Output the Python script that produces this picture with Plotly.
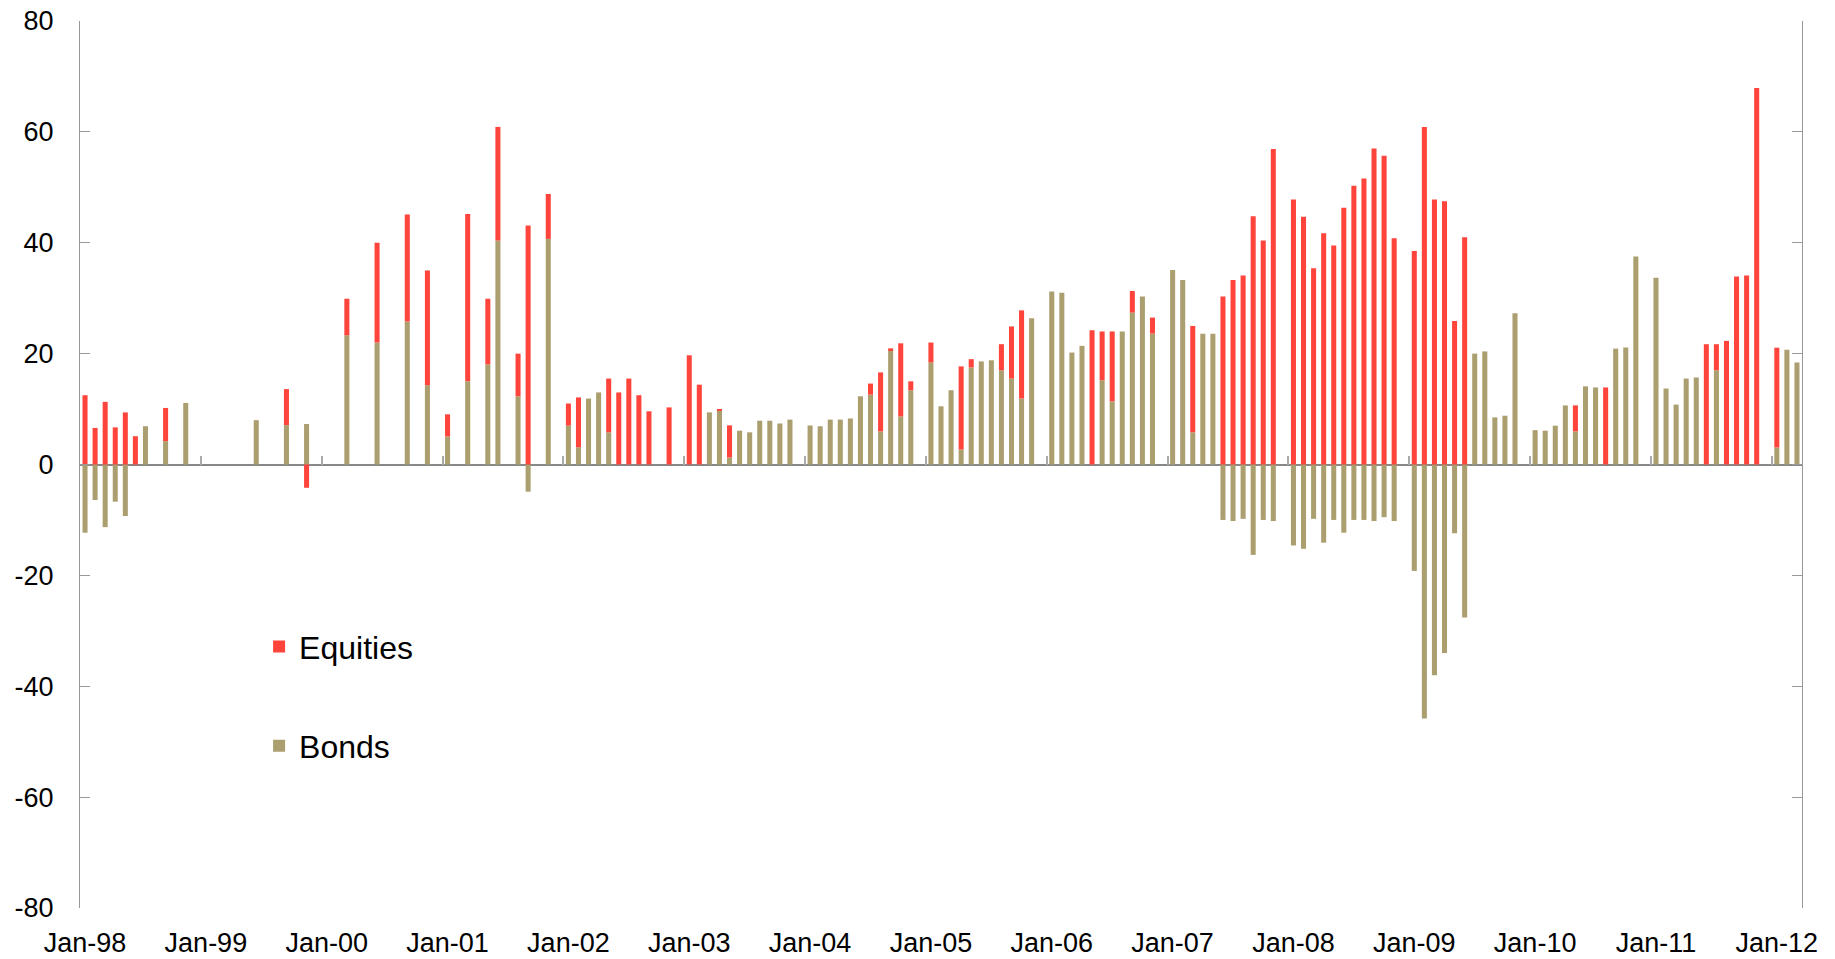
import plotly.graph_objects as go

# ---------------- data (monthly, Jan-98 .. Mar-12) ----------------
month_names = ["Jan", "Feb", "Mar", "Apr", "May", "Jun",
               "Jul", "Aug", "Sep", "Oct", "Nov", "Dec"]
years = ["98", "99", "00", "01", "02", "03", "04",
         "05", "06", "07", "08", "09", "10", "11", "12"]
last_year_months = 3  # data for 2012 runs to March

categories = []
for yy in years:
    n = last_year_months if yy == "12" else 12
    for m in month_names[:n]:
        categories.append(f"{m}-{yy}")

year_tick_labels = ["Jan-98", "Jan-99", "Jan-00", "Jan-01", "Jan-02", "Jan-03",
                    "Jan-04", "Jan-05", "Jan-06", "Jan-07", "Jan-08", "Jan-09",
                    "Jan-10", "Jan-11", "Jan-12"]

N = None
equities = [
    # 1998
    12.5, 6.6, 11.3, 6.7, 9.4, 5.1, N, N, 6.0, N, N, N,
    # 1999
    N, N, N, N, N, N, N, N, 6.5, N, -4.2, N,
    # 2000
    N, N, 6.6, N, N, 18.0, N, N, 19.3, N, 20.7, N,
    # 2001
    4.0, N, 30.2, N, 11.85, 20.5, N, 7.7, 43.1, N, 8.1, N,
    # 2002
    4.0, 9.0, N, N, 9.7, 13.0, 15.5, 12.5, 9.6, N, 10.3, N,
    # 2003
    19.7, 14.4, N, 0.2, 5.8, N, N, N, N, N, N, N,
    # 2004
    N, N, N, N, N, N, 2.0, 10.65, 0.35, 13.2, 1.6, N,
    # 2005
    3.6, N, N, 15.0, 1.5, N, N, 4.7, 9.4, 15.9, N, N,
    # 2006
    N, N, N, N, 24.2, 8.8, 12.6, N, 3.9, N, 2.9, N,
    # 2007
    N, N, 19.2, N, N, 30.3, 33.3, 34.1, 44.8, 40.4, 56.9, N,
    # 2008
    47.8, 44.7, 35.4, 41.7, 39.5, 46.3, 50.3, 51.6, 57.0, 55.7, 40.8, N,
    # 2009
    38.5, 60.9, 47.8, 47.5, 25.9, 41.0, N, N, N, N, N, N,
    # 2010
    N, N, N, N, 4.7, N, N, 13.9, N, N, N, N,
    # 2011
    N, N, N, N, N, 21.7, 4.7, 22.3, 33.9, 34.1, 67.9, N,
    # 2012
    18.0, N, N,
]

bonds = [
    # 1998
    -12.3, -6.4, -11.3, -6.7, -9.3, N, 6.9, N, 4.2, N, 11.1, N,
    # 1999
    N, N, N, N, N, 8.0, N, N, 7.1, N, 7.3, N,
    # 2000
    N, N, 23.3, N, N, 22.0, N, N, 25.8, N, 14.3, N,
    # 2001
    5.05, N, 15.0, N, 18.05, 40.4, N, 12.3, -4.9, N, 40.7, N,
    # 2002
    7.0, 3.1, 11.9, 13.0, 5.8, N, N, N, N, N, N, N,
    # 2003
    N, N, 9.4, 9.75, 1.26, 6.1, 5.8, 7.9, 7.9, 7.4, 8.1, N,
    # 2004
    7.04, 6.9, 8.1, 8.1, 8.3, 12.3, 12.6, 5.96, 20.6, 8.66, 13.4, N,
    # 2005
    18.4, 10.5, 13.4, 2.7, 17.5, 18.6, 18.8, 17.0, 15.5, 11.9, 26.4, N,
    # 2006
    31.2, 31.0, 20.2, 21.4, N, 15.2, 11.4, 24.0, 27.4, 30.3, 23.6, N,
    # 2007
    35.1, 33.3, 5.8, 23.6, 23.6, -10.0, -10.2, -9.8, -16.3, -10.0, -10.2, N,
    # 2008
    -14.6, -15.2, -9.8, -14.1, -10.0, -12.3, -10.0, -10.0, -10.2, -9.5, -10.2, N,
    # 2009
    -19.2, -45.8, -38.0, -34.0, -12.4, -27.6, 20.0, 20.4, 8.5, 8.8, 27.3, N,
    # 2010
    6.2, 6.1, 7.0, 10.65, 5.96, 14.1, 13.9, N, 20.9, 21.1, 37.5, N,
    # 2011
    33.7, 13.7, 10.8, 15.5, 15.7, N, 17.0, N, N, N, N, N,
    # 2012
    3.07, 20.7, 18.4,
]

y_ticks = [-80, -60, -40, -20, 0, 20, 40, 60, 80]
y_tick_labels = ["-80", "-60", "-40", "-20", "0", "20", "40", "60", "80"]
# year boundaries (between Dec and Jan) for the small ticks on the zero line
year_boundaries = [12 * k - 0.5 for k in range(1, 15)]

RED = "#FF443B"
KHAKI = "#AB9E6F"
FONT = "Liberation Sans, Arial, sans-serif"

fig = go.Figure()
fig.add_trace(go.Bar(x=categories, y=bonds, name="Bonds",
                     marker=dict(color=KHAKI, line=dict(width=0)),
                     legend="legend2"))
fig.add_trace(go.Bar(x=categories, y=equities, name="Equities",
                     marker=dict(color=RED, line=dict(width=0)),
                     legend="legend"))
# helper trace so the overlaid zero-line tick axis is drawn
fig.add_trace(go.Scatter(x=[None], y=[None], xaxis="x2", showlegend=False,
                         hoverinfo="skip", mode="markers"))

n_cat = len(categories)
fig.update_layout(
    width=1835, height=959,
    margin=dict(l=80, r=33, t=21, b=51, autoexpand=False),
    paper_bgcolor="white", plot_bgcolor="white",
    barmode="relative", bargap=0.5,
    font=dict(family=FONT, color="black", size=27),
    xaxis=dict(type="category", categoryorder="array", categoryarray=categories,
               range=[-0.5, n_cat - 0.5],
               tickmode="array", tickvals=year_tick_labels, ticktext=year_tick_labels,
               ticks="", showline=False, showgrid=False, zeroline=False,
               tickfont=dict(size=27, family=FONT), ticklabelstandoff=16),
    xaxis2=dict(type="linear", overlaying="x", anchor="free", position=0.5,
                side="bottom", range=[-0.5, n_cat - 0.5],
                showline=False, showgrid=False, zeroline=False,
                tickmode="array", tickvals=year_boundaries, showticklabels=False,
                ticks="inside", ticklen=9, tickwidth=1.5, tickcolor="#AAAAAA"),
    yaxis=dict(range=[-80, 80], tickmode="array", tickvals=y_ticks,
               ticktext=y_tick_labels,
               ticks="inside", ticklen=10, tickcolor="#999999", tickwidth=1,
               showline=True, linecolor="#999999", linewidth=1, mirror="ticks",
               showgrid=False, zeroline=True, zerolinecolor="#888888",
               zerolinewidth=1.5, tickfont=dict(size=27, family=FONT),
               ticklabelstandoff=20),
    legend=dict(x=0.104, y=0.2946, xanchor="left", yanchor="middle",
                bgcolor="rgba(0,0,0,0)", font=dict(size=32, family=FONT)),
    legend2=dict(x=0.104, y=0.1828, xanchor="left", yanchor="middle",
                 bgcolor="rgba(0,0,0,0)", font=dict(size=32, family=FONT)),
    showlegend=True,
)

fig.write_html("out.html", config={"displayModeBar": False},
               post_script="document.body.style.margin='0px';")
